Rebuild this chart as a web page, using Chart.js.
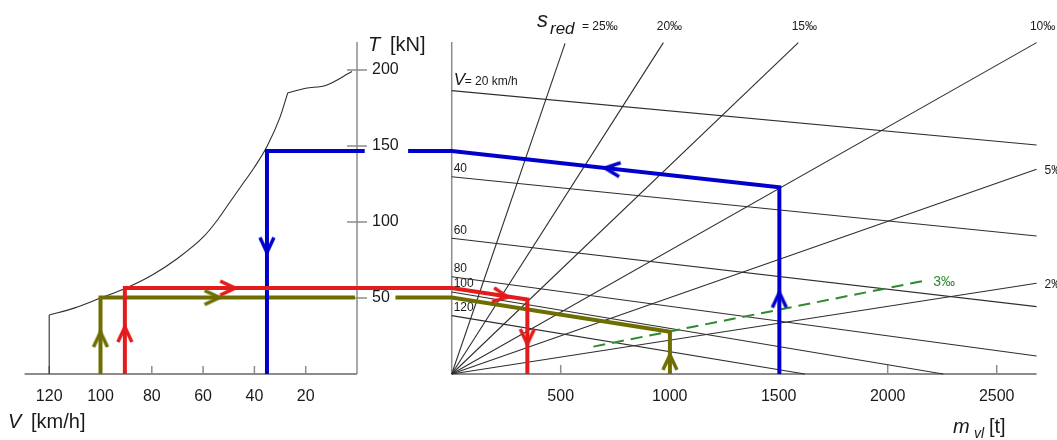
<!DOCTYPE html>
<html>
<head>
<meta charset="utf-8">
<script src="https://cdn.jsdelivr.net/npm/chart.js@4.4.1/dist/chart.umd.min.js"></script>
<style>
  html, body { margin: 0; padding: 0; background: #fff; }
  #wrap { width: 1057px; height: 440px; }
</style>
</head>
<body>
<div id="wrap"><canvas id="nomo" width="1057" height="440"></canvas></div>
<script>
// tick values
const vTicks = [120, 100, 80, 60, 40, 20];
const mTicks = [500, 1000, 1500, 2000, 2500];
const tTicks = [50, 100, 150, 200];

// traction curve T(V) on the left panel
const tractionV = [120, 120, 110, 100, 90, 80, 70, 60, 55, 50, 45, 40, 35, 30, 27, 20, 12, 2];
const tractionT = [0, 38.8, 43.5, 50, 56.6, 65, 76, 90, 100, 112, 124, 136, 150, 169, 185, 188, 190, 199];
const KINK = 14; // sharp corner at V = 27

// speed lines on the right panel (start at m = 0)
const vLineNames = ["20", "40", "60", "80", "100", "120"];
const vLineStartT = [186.4, 129.8, 89.3, 64, 54, 38.4];
const vLineEndM = [2683, 2683, 2683, 2683, 2255, 1620];
const vLineEndT = [150.7, 90.8, 44.3, 11.8, 0, 0];

// gradient lines s_red (from origin)
const sNames = ["25‰", "20‰", "15‰", "10‰", "5‰", "2‰"];
const sEndM = [520, 971, 1590, 2683, 2683, 2683];
const sEndT = [217.5, 218, 218, 218, 134.7, 59.7];

// dashed 3‰ line
const s3M = [650, 2163];
const s3T = [18, 61.2];

// worked examples
const blueLeftV = [35.1, 35.1, -3];
const blueLeftT = [0, 146.7, 146.7];
const blueRightM = [-200, 0, 1503, 1503];
const blueRightT = [146.7, 146.7, 122.8, 0];

const redLeftV = [90.5, 90.5, 0];
const redLeftT = [0, 56.5, 56.5];
const redRightM = [-434, 0, 347, 347];
const redRightT = [56.5, 56.5, 49, 0];

const greenLeftV = [100, 100, 0.8];
const greenLeftT = [0, 50.3, 50.3];
const greenRightM = [-258, 0, 1001, 1001];
const greenRightT = [50.3, 50.3, 27.8, 0];

// arrow heads (value, T, direction in degrees, 0 = up)
const blueArrV = [35.1], blueArrVT = [84.5], blueArrVRot = [180];
const blueArrM = [735, 1503], blueArrMT = [135, 49], blueArrMRot = [-83.7, 0];
const redArrV = [90.5, 50.2], redArrVT = [26.3, 56.5], redArrVRot = [0, 90];
const redArrM = [226, 347], redArrMT = [51.3, 24.3], redArrMRot = [99, 180];
const greenArrV = [100, 56.3], greenArrVT = [23, 50.3], greenArrVRot = [0, 90];
const greenArrM = [1001], greenArrMT = [8], greenArrMRot = [0];

// axes extents
const V_AXIS_END = 129.6;
const M_AXIS_END = 2683;
const T_AXIS_END = 218.5;

const BLUE = "#0000cc";
const RED = "#e41b1b";
const OLIVE = "#6e6e00";
const DGREEN = "#2d8a2d";
const THIN = "#2e2e2e";
const AXIS = "#8c8c8c";
const TEXT = "#1a1a1a";
const FONT = "'Liberation Sans', Arial, sans-serif";

function pts(xs, ys) {
  return xs.map((x, i) => ({ x: x, y: ys[i] }));
}

function path(axis, data, color, width, order, dash) {
  return {
    xAxisID: axis,
    data: data,
    showLine: true,
    borderColor: color,
    borderWidth: width,
    borderDash: dash || [],
    pointRadius: 0,
    tension: 0,
    fill: false,
    order: order
  };
}

function makeArrow(color) {
  const c = document.createElement("canvas");
  c.width = 20;
  c.height = 20;
  const g = c.getContext("2d");
  g.strokeStyle = color;
  g.lineWidth = 3.5;
  g.lineJoin = "miter";
  g.beginPath();
  g.moveTo(3, 18);
  g.lineTo(10, 3);
  g.lineTo(17, 18);
  g.stroke();
  return c;
}

function arrows(axis, xs, ts, rots, color) {
  return {
    xAxisID: axis,
    data: pts(xs, ts),
    showLine: false,
    pointStyle: makeArrow(color),
    pointRadius: 10,
    pointRotation: rots,
    order: 0
  };
}

const datasets = [];

// axes
datasets.push(path("xV", pts([V_AXIS_END, 0], [0, 0]), AXIS, 2, 5));
datasets.push(path("xV", pts([0, 0], [0, T_AXIS_END]), AXIS, 1.5, 5));
datasets.push(path("xM", pts([0, M_AXIS_END], [0, 0]), AXIS, 2, 5));
datasets.push(path("xM", pts([0, 0], [0, T_AXIS_END]), AXIS, 1.5, 5));

// traction curve: straight foot, then two smooth pieces meeting at a kink
datasets.push(path("xV", pts(tractionV.slice(0, 2), tractionT.slice(0, 2)), THIN, 1.1, 4));
[[1, KINK + 1], [KINK, tractionV.length]].forEach(([a, b]) => {
  const piece = path("xV", pts(tractionV.slice(a, b), tractionT.slice(a, b)), THIN, 1.1, 4);
  piece.cubicInterpolationMode = "monotone";
  datasets.push(piece);
});

// speed lines
vLineNames.forEach((n, i) => {
  datasets.push(path("xM", pts([0, vLineEndM[i]], [vLineStartT[i], vLineEndT[i]]), THIN, 1.1, 4));
});

// gradient lines
sNames.forEach((n, i) => {
  datasets.push(path("xM", pts([0, sEndM[i]], [0, sEndT[i]]), THIN, 1.1, 4));
});

datasets.push(path("xM", pts(s3M, s3T), DGREEN, 2, 3, [12, 7]));

// worked examples
datasets.push(path("xV", pts(greenLeftV, greenLeftT), OLIVE, 4, 2));
datasets.push(path("xM", pts(greenRightM, greenRightT), OLIVE, 4, 2));
datasets.push(path("xV", pts(redLeftV, redLeftT), RED, 4, 1));
datasets.push(path("xM", pts(redRightM, redRightT), RED, 4, 1));
datasets.push(path("xV", pts(blueLeftV, blueLeftT), BLUE, 4, 1));
datasets.push(path("xM", pts(blueRightM, blueRightT), BLUE, 4, 1));

datasets.push(arrows("xV", blueArrV, blueArrVT, blueArrVRot, BLUE));
datasets.push(arrows("xM", blueArrM, blueArrMT, blueArrMRot, BLUE));
datasets.push(arrows("xV", redArrV, redArrVT, redArrVRot, RED));
datasets.push(arrows("xM", redArrM, redArrMT, redArrMRot, RED));
datasets.push(arrows("xV", greenArrV, greenArrVT, greenArrVRot, OLIVE));
datasets.push(arrows("xM", greenArrM, greenArrMT, greenArrMRot, OLIVE));

function txt(ctx, s, x, y, size, align, italic, color) {
  ctx.font = (italic ? "italic " : "") + size + "px " + FONT;
  ctx.textAlign = align || "left";
  ctx.textBaseline = "middle";
  ctx.fillStyle = color || TEXT;
  ctx.fillText(s, x, y);
}

// ticks and text
const labelPlugin = {
  id: "nomoLabels",
  beforeDatasetsDraw(chart) {
    const ctx = chart.ctx;
    const xV = chart.scales.xV, xM = chart.scales.xM, y = chart.scales.y;
    const y0 = y.getPixelForValue(0);
    const tx = xV.getPixelForValue(0);
    const mx = xM.getPixelForValue(0);
    ctx.save();
    ctx.strokeStyle = AXIS;
    ctx.lineWidth = 1.5;
    ctx.beginPath();
    vTicks.forEach(v => {
      const px = xV.getPixelForValue(v);
      ctx.moveTo(px, y0);
      ctx.lineTo(px, y0 - 8);
    });
    mTicks.forEach(m => {
      const px = xM.getPixelForValue(m);
      ctx.moveTo(px, y0);
      ctx.lineTo(px, y0 - 9);
    });
    tTicks.forEach(t => {
      const py = y.getPixelForValue(t);
      ctx.moveTo(tx - 10, py);
      ctx.lineTo(tx + 10, py);
    });
    ctx.stroke();

    vTicks.forEach(v => txt(ctx, String(v), xV.getPixelForValue(v), y0 + 23, 16, "center"));
    mTicks.forEach(m => txt(ctx, String(m), xM.getPixelForValue(m), y0 + 23, 16, "center"));
    tTicks.forEach(t => txt(ctx, String(t), tx + 15, y.getPixelForValue(t), 16, "left"));

    // axis titles
    txt(ctx, "V", 8, y0 + 48, 20, "left", true);
    txt(ctx, "[km/h]", 31, y0 + 48, 20, "left");
    txt(ctx, "T", tx + 11, 45, 20, "left", true);
    txt(ctx, "[kN]", tx + 33, 45, 20, "left");
    txt(ctx, "m", 953, 427, 20, "left", true);
    txt(ctx, "vl", 974, 434, 14, "left", true);
    txt(ctx, "[t]", 989, 427, 20, "left");

    // speed line labels
    vLineNames.forEach((n, i) => {
      const py = y.getPixelForValue(vLineStartT[i]);
      if (i === 0) {
        txt(ctx, "V", mx + 2, py - 10, 17, "left", true);
        txt(ctx, "= 20 km/h", mx + 13, py - 9, 12, "left");
      } else {
        txt(ctx, n, mx + 2, py - 8, 12, "left");
      }
    });

    // gradient labels
    txt(ctx, "s", 537, 21, 22, "left", true);
    txt(ctx, "red", 550, 29, 17, "left", true);
    txt(ctx, "= " + sNames[0], 582, 27, 12, "left");
    for (let i = 1; i < 4; i++) {
      txt(ctx, sNames[i], xM.getPixelForValue(sEndM[i]) + 6, 27, 12, "center");
    }
    for (let i = 4; i < 6; i++) {
      txt(ctx, sNames[i], xM.getPixelForValue(sEndM[i]) + 8, y.getPixelForValue(sEndT[i]) + 1, 12, "left");
    }
    txt(ctx, "3‰", xM.getPixelForValue(s3M[1]) + 10, y.getPixelForValue(s3T[1]) + 1, 14, "left", false, DGREEN);
    ctx.restore();
  }
};

new Chart(document.getElementById("nomo"), {
  type: "scatter",
  data: { datasets: datasets },
  options: {
    responsive: false,
    animation: false,
    devicePixelRatio: 1,
    events: [],
    layout: { padding: 0, autoPadding: false },
    plugins: { legend: { display: false }, tooltip: { enabled: false } },
    scales: {
      xV: { type: "linear", display: false, reverse: true, min: -272.9, max: 139.18 },
      xM: { type: "linear", display: false, min: -2072, max: 2776.6 },
      y: { type: "linear", display: false, min: -43.42, max: 246.05 }
    }
  },
  plugins: [labelPlugin]
});
</script>
</body>
</html>
